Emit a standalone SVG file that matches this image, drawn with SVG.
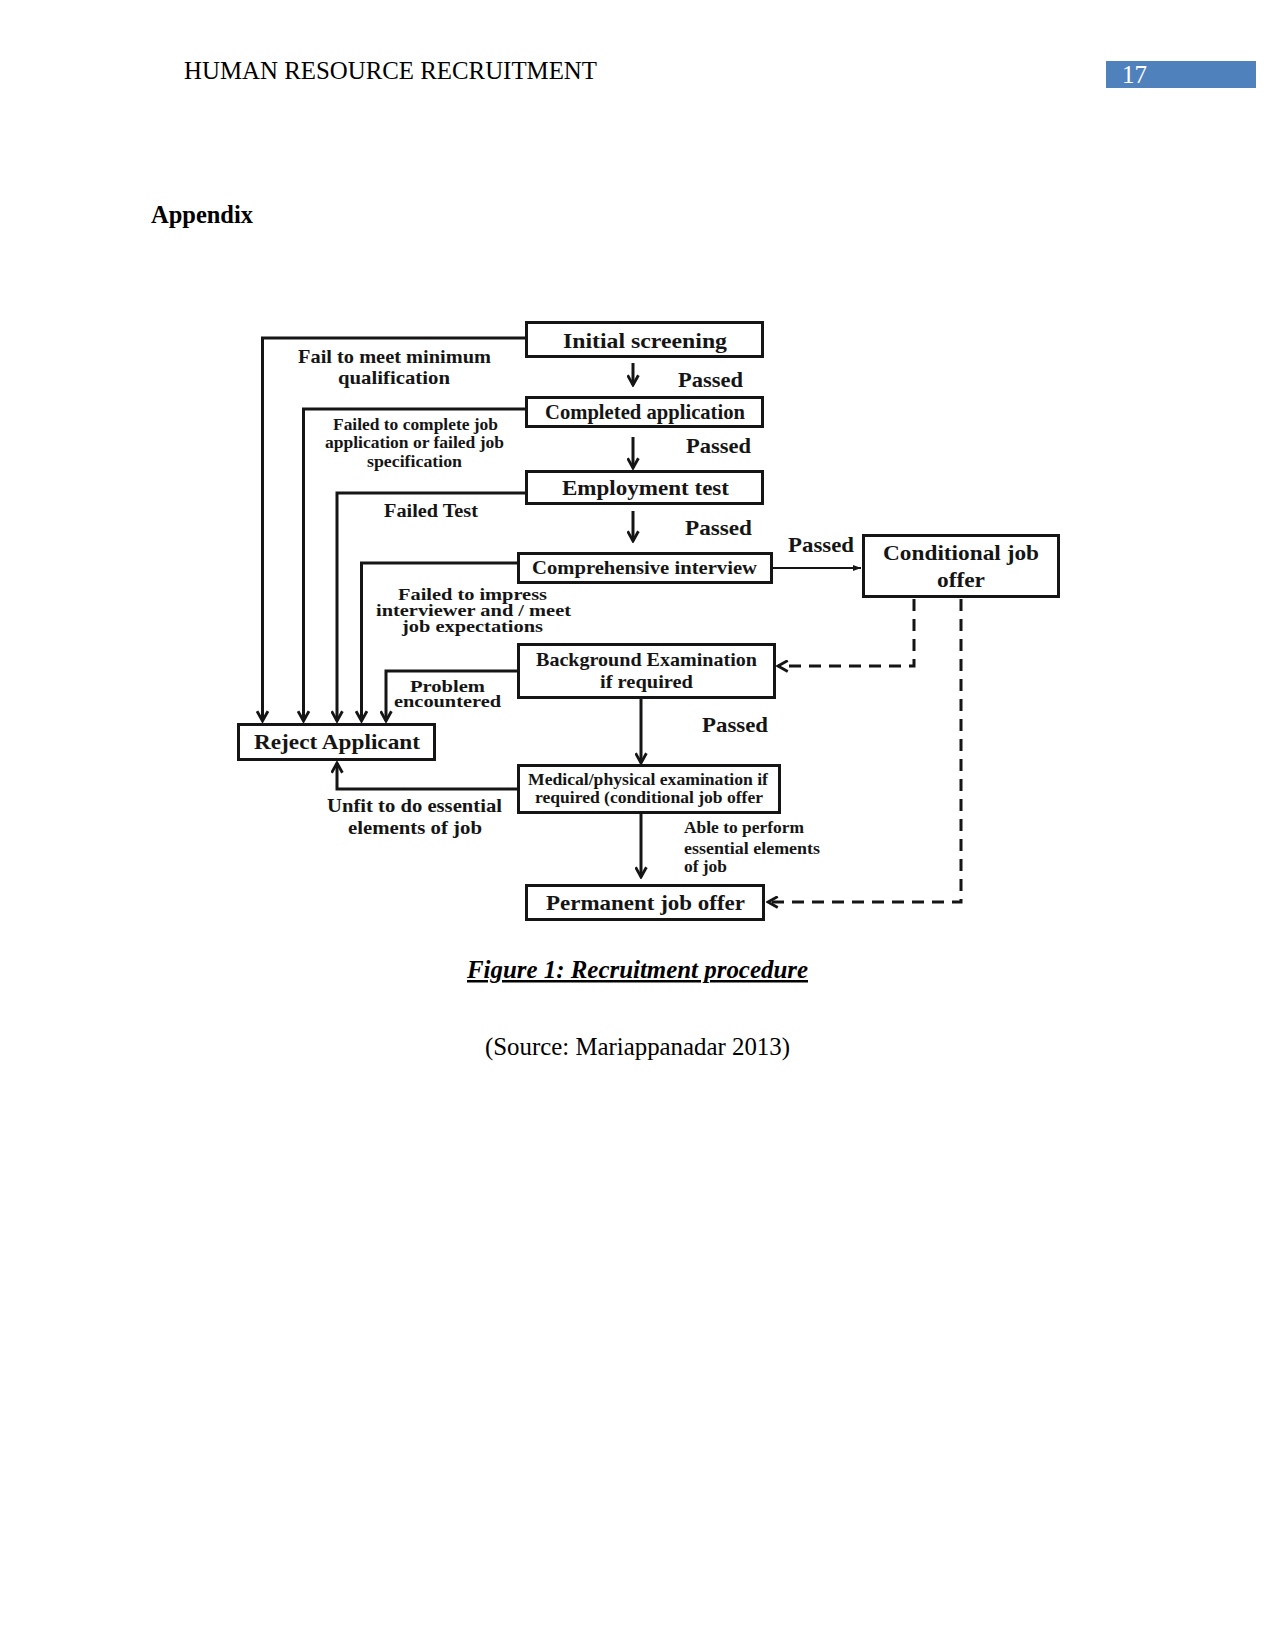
<svg xmlns="http://www.w3.org/2000/svg" width="1275" height="1651" viewBox="0 0 1275 1651">
<style>
.pg{font-family:"Liberation Serif","Times New Roman",serif;fill:#000}
.d{font-family:"Liberation Serif","Times New Roman",serif;font-weight:bold;fill:#151515}
.box{fill:#fff;stroke:#151515;stroke-width:3}
.ln{fill:none;stroke:#151515;stroke-width:3}
.thin{fill:none;stroke:#151515;stroke-width:2}
.dash{fill:none;stroke:#151515;stroke-width:3;stroke-dasharray:12 8}
.c{text-anchor:middle}
</style>
<defs>
<marker id="open" viewBox="0 0 12 12" refX="10.5" refY="6" markerWidth="13" markerHeight="13" markerUnits="userSpaceOnUse" orient="auto">
<path d="M1.5,1 L10.5,6 L1.5,11" fill="none" stroke="#151515" stroke-width="2.6"/>
</marker>
<marker id="fill" viewBox="0 0 10 10" refX="9" refY="5" markerWidth="9" markerHeight="9" markerUnits="userSpaceOnUse" orient="auto">
<path d="M0,1.5 L9,5 L0,8.5 Z" fill="#151515"/>
</marker>
</defs>
<rect width="1275" height="1651" fill="#fff"/>

<g id="header">
<text class="pg" x="184" y="79" font-size="25" textLength="413" lengthAdjust="spacingAndGlyphs">HUMAN RESOURCE RECRUITMENT</text>
<rect x="1106" y="61" width="150" height="27" fill="#4f81bd"/>
<text class="pg" x="1122" y="83" font-size="25" style="fill:#fff">17</text>
<text class="pg" x="151" y="223" font-size="25" font-weight="bold" textLength="102" lengthAdjust="spacingAndGlyphs">Appendix</text>
</g>

<g id="connectors">
<path class="ln" d="M525,338 H262.5 V721" marker-end="url(#open)"/>
<path class="ln" d="M525,409 H303.5 V721" marker-end="url(#open)"/>
<path class="ln" d="M525,493 H337 V721" marker-end="url(#open)"/>
<path class="ln" d="M517,563 H361.5 V721" marker-end="url(#open)"/>
<path class="ln" d="M517,671 H386 V721" marker-end="url(#open)"/>
<path class="ln" d="M517,789 H337 V763" marker-end="url(#open)"/>
<path class="ln" d="M633,363 V385" marker-end="url(#open)"/>
<path class="ln" d="M633,437 V468" marker-end="url(#open)"/>
<path class="ln" d="M633,511 V541" marker-end="url(#open)"/>
<path class="ln" d="M641,699 V763" marker-end="url(#open)"/>
<path class="ln" d="M641,814 V877" marker-end="url(#open)"/>
<path class="thin" d="M773,568 H861" marker-end="url(#fill)"/>
<path class="dash" d="M914,599 V666 H778" marker-end="url(#open)"/>
<path class="dash" d="M961,599 V902 H768" marker-end="url(#open)"/>
</g>

<g id="initial-screening">
<rect class="box" x="526.5" y="322.5" width="236" height="34"/>
<text class="d c" x="645" y="348" font-size="22" textLength="164" lengthAdjust="spacingAndGlyphs">Initial screening</text>
</g>
<g id="completed-application">
<rect class="box" x="526.5" y="397.5" width="236" height="29"/>
<text class="d c" x="645" y="419" font-size="21" textLength="200" lengthAdjust="spacingAndGlyphs">Completed application</text>
</g>
<g id="employment-test">
<rect class="box" x="526.5" y="471.5" width="236" height="32"/>
<text class="d c" x="645.5" y="495" font-size="22" textLength="167" lengthAdjust="spacingAndGlyphs">Employment test</text>
</g>
<g id="comprehensive-interview">
<rect class="box" x="518.5" y="553.5" width="253" height="29"/>
<text class="d c" x="644.5" y="574" font-size="19" textLength="225" lengthAdjust="spacingAndGlyphs">Comprehensive interview</text>
</g>
<g id="conditional-job-offer">
<rect class="box" x="863.5" y="535.5" width="195" height="61"/>
<text class="d c" x="961" y="560" font-size="22" textLength="156" lengthAdjust="spacingAndGlyphs">Conditional job</text>
<text class="d c" x="961" y="587" font-size="22" textLength="48" lengthAdjust="spacingAndGlyphs">offer</text>
</g>
<g id="background-examination">
<rect class="box" x="518.5" y="644.5" width="256" height="53"/>
<text class="d c" x="646.5" y="666" font-size="19" textLength="221" lengthAdjust="spacingAndGlyphs">Background Examination</text>
<text class="d c" x="646.5" y="688" font-size="19" textLength="93" lengthAdjust="spacingAndGlyphs">if required</text>
</g>
<g id="reject-applicant">
<rect class="box" x="238.5" y="724.5" width="196" height="35"/>
<text class="d c" x="337" y="749" font-size="22" textLength="166" lengthAdjust="spacingAndGlyphs">Reject Applicant</text>
</g>
<g id="medical-examination">
<rect class="box" x="518.5" y="765.5" width="261" height="47"/>
<text class="d c" x="648" y="785" font-size="16" textLength="240" lengthAdjust="spacingAndGlyphs">Medical/physical examination if</text>
<text class="d c" x="649" y="803" font-size="16" textLength="228" lengthAdjust="spacingAndGlyphs">required (conditional job offer</text>
</g>
<g id="permanent-job-offer">
<rect class="box" x="526.5" y="885.5" width="237" height="34"/>
<text class="d c" x="645.5" y="910" font-size="22" textLength="199" lengthAdjust="spacingAndGlyphs">Permanent job offer</text>
</g>

<g id="labels">
<text class="d" x="678" y="387" font-size="22" textLength="65" lengthAdjust="spacingAndGlyphs">Passed</text>
<text class="d" x="686" y="453" font-size="22" textLength="65" lengthAdjust="spacingAndGlyphs">Passed</text>
<text class="d" x="685" y="535" font-size="22" textLength="67" lengthAdjust="spacingAndGlyphs">Passed</text>
<text class="d" x="788" y="552" font-size="22" textLength="66" lengthAdjust="spacingAndGlyphs">Passed</text>
<text class="d" x="702" y="732" font-size="22" textLength="66" lengthAdjust="spacingAndGlyphs">Passed</text>
<text class="d" x="298" y="363" font-size="19" textLength="193" lengthAdjust="spacingAndGlyphs">Fail to meet minimum</text>
<text class="d" x="338" y="384" font-size="19" textLength="112" lengthAdjust="spacingAndGlyphs">qualification</text>
<text class="d" x="333" y="430" font-size="16" textLength="165" lengthAdjust="spacingAndGlyphs">Failed to complete job</text>
<text class="d" x="325" y="448" font-size="16" textLength="179" lengthAdjust="spacingAndGlyphs">application or failed job</text>
<text class="d" x="367" y="467" font-size="16" textLength="95" lengthAdjust="spacingAndGlyphs">specification</text>
<text class="d" x="384" y="517" font-size="18" textLength="94" lengthAdjust="spacingAndGlyphs">Failed Test</text>
<text class="d" x="398" y="600" font-size="17" textLength="149" lengthAdjust="spacingAndGlyphs">Failed to impress</text>
<text class="d" x="376" y="616" font-size="17" textLength="195" lengthAdjust="spacingAndGlyphs">interviewer and / meet</text>
<text class="d" x="402" y="632" font-size="17" textLength="141" lengthAdjust="spacingAndGlyphs">job expectations</text>
<text class="d" x="410" y="692" font-size="16" textLength="75" lengthAdjust="spacingAndGlyphs">Problem</text>
<text class="d" x="394" y="707" font-size="16" textLength="107" lengthAdjust="spacingAndGlyphs">encountered</text>
<text class="d" x="327" y="812" font-size="19" textLength="175" lengthAdjust="spacingAndGlyphs">Unfit to do essential</text>
<text class="d" x="348" y="834" font-size="19" textLength="134" lengthAdjust="spacingAndGlyphs">elements of job</text>
<text class="d" x="684" y="833" font-size="16" textLength="120" lengthAdjust="spacingAndGlyphs">Able to perform</text>
<text class="d" x="684" y="854" font-size="16" textLength="136" lengthAdjust="spacingAndGlyphs">essential elements</text>
<text class="d" x="684" y="872" font-size="16" textLength="43" lengthAdjust="spacingAndGlyphs">of job</text>
</g>

<g id="caption">
<text class="pg" x="467" y="978" font-size="25" font-weight="bold" font-style="italic" text-decoration="underline" textLength="341" lengthAdjust="spacingAndGlyphs">Figure 1: Recruitment procedure</text>
<text class="pg" x="485" y="1055" font-size="25" textLength="305" lengthAdjust="spacingAndGlyphs">(Source: Mariappanadar 2013)</text>
</g>
</svg>
